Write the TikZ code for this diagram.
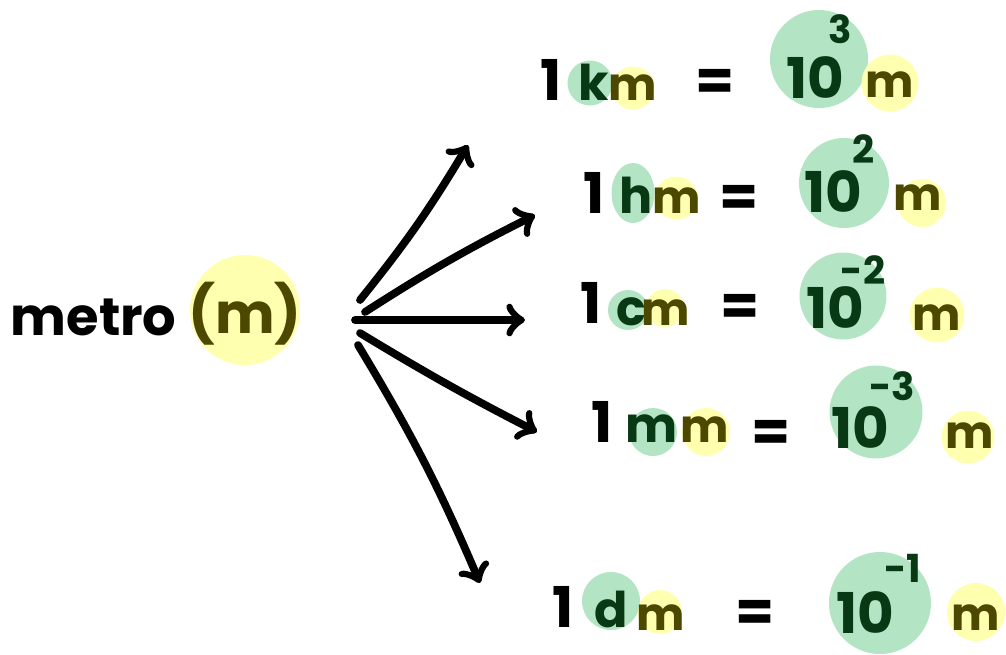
\documentclass[tikz,border=0pt]{standalone}
\usepackage{fontspec}
\setmainfont{Poppins}
\usepackage{tikz}
\usetikzlibrary{arrows,shapes.geometric}

\definecolor{grnfill}{RGB}{179,229,196}
\definecolor{ylwfill}{RGB}{255,255,176}
\definecolor{grntext}{RGB}{8,56,20}
\definecolor{ylwtext}{RGB}{76,72,0}

\tikzset{
  grn/.style={circle, fill=grnfill, inner sep=0pt},
  ylw/.style={circle, fill=ylwfill, inner sep=0pt},
  txt/.style={anchor=base, inner sep=0pt, font=\fontsize{16}{16}\selectfont\bfseries},
  sup/.style={anchor=base, inner sep=0pt, font=\fontsize{11}{11}\selectfont\bfseries, text=grntext},
  pre/.style={txt, text=grntext, font=\fontsize{14}{14}\selectfont\bfseries},
  ten/.style={txt, text=grntext},
  unit/.style={txt, text=ylwtext, font=\fontsize{13}{13}\selectfont\bfseries},
  eq/.style={txt, anchor=center}
}

\begin{document}
\begin{tikzpicture}
\useasboundingbox (0,0) rectangle (10.06,6.54);

% highlights
\node (ym0) at (2.45, 3.44) [ylw, minimum size=1.1cm] {};

\node (gk) at (5.90, 5.71) [grn, minimum size=0.45cm] {};
\node (yk) at (6.33, 5.66) [ylw, minimum size=0.43cm] {};
\node (gp1) at (8.19, 5.95) [grn, minimum size=0.98cm] {};
\node (yp1) at (8.90, 5.71) [ylw, minimum size=0.57cm] {};

\node (gh) at (6.33, 4.61) [ellipse, fill=grnfill, inner sep=0pt, minimum width=0.43cm, minimum height=0.6cm] {};
\node (yh) at (6.76, 4.56) [ylw, minimum size=0.43cm] {};
\node (gp2) at (8.44, 4.71) [grn, minimum size=0.9cm] {};
\node (yp2) at (9.22, 4.51) [ylw, minimum size=0.48cm] {};

\node (gc) at (6.28, 3.44) [grn, minimum size=0.4cm] {};
\node (yc) at (6.65, 3.46) [ylw, minimum size=0.38cm] {};
\node (gp3) at (8.43, 3.58) [grn, minimum size=0.87cm] {};
\node (yp3) at (9.37, 3.39) [ylw, minimum size=0.55cm] {};

\node (gmm) at (6.53, 2.22) [grn, minimum size=0.48cm] {};
\node (ymm) at (7.06, 2.22) [ylw, minimum size=0.48cm] {};
\node (gp4) at (8.76, 2.42) [grn, minimum size=0.93cm] {};
\node (yp4) at (9.68, 2.17) [ylw, minimum size=0.53cm] {};

\node (gd) at (6.11, 0.53) [grn, minimum size=0.58cm] {};
\node (yd) at (6.60, 0.42) [ylw, minimum size=0.44cm] {};
\node (gp5) at (8.80, 0.51) [grn, minimum size=1.02cm] {};
\node (yp5) at (9.76, 0.42) [ylw, minimum size=0.58cm] {};

% metro
\node (metro) at (0.10, 3.19) [txt, anchor=base west, font=\fontsize{15}{15}\selectfont\bfseries] {metro};
\node (m0) at (2.45, 3.21) [unit, font=\fontsize{16}{16}\selectfont\bfseries] {(m)};

% km
\node (one1) at (5.51, 5.54) [txt] {1};
\node (k) at (5.94, 5.54) [pre] {k};
\node (m1) at (6.33, 5.54) [unit] {m};
\node (eq1) at (7.15, 5.69) [eq] {=};
\node (ten1) at (8.15, 5.56) [ten] {10};
\node (ex1) at (8.40, 6.11) [sup] {3};
\node (u1) at (8.90, 5.57) [unit] {m};

% hm
\node (one2) at (5.94, 4.41) [txt] {1};
\node (h) at (6.36, 4.41) [pre] {h};
\node (m2) at (6.77, 4.41) [unit] {m};
\node (eq2) at (7.39, 4.53) [eq] {=};
\node (ten2) at (8.33, 4.42) [ten] {10};
\node (ex2) at (8.64, 4.91) [sup] {2};
\node (u2) at (9.18, 4.44) [unit] {m};

% cm
\node (one3) at (5.91, 3.31) [txt] {1};
\node (c) at (6.31, 3.29) [pre] {c};
\node (m3) at (6.66, 3.29) [unit] {m};
\node (eq3) at (7.40, 3.44) [eq] {=};
\node (ten3) at (8.35, 3.26) [ten] {10};
\node (ex3) at (8.63, 3.70) [sup] {-2};
\node (u3) at (9.37, 3.24) [unit] {m};

% mm
\node (one4) at (6.02, 2.12) [txt] {1};
\node (mp) at (6.52, 2.12) [pre] {m};
\node (m4) at (7.05, 2.12) [unit] {m};
\node (eq4) at (7.71, 2.18) [eq] {=};
\node (ten4) at (8.60, 2.06) [ten] {10};
\node (ex4) at (8.92, 2.54) [sup] {-3};
\node (u4) at (9.70, 2.06) [unit] {m};

% dm
\node (one5) at (5.63, 0.27) [txt] {1};
\node (d) at (6.11, 0.27) [pre] {d};
\node (m5) at (6.61, 0.24) [unit] {m};
\node (eq5) at (7.55, 0.38) [eq] {=};
\node (ten5) at (8.65, 0.21) [ten] {10};
\node (ex5) at (9.03, 0.72) [sup] {-1};
\node (u5) at (9.76, 0.24) [unit] {m};

% arrows
\coordinate (s1) at (3.60, 3.54);
\coordinate (s2) at (3.65, 3.42);
\coordinate (s3) at (3.55, 3.34);
\coordinate (s4) at (3.60, 3.21);
\coordinate (s5) at (3.58, 3.09);
\coordinate (e1) at (4.68, 5.09);
\coordinate (e2) at (5.35, 4.39);
\coordinate (e3) at (5.25, 3.34);
\coordinate (e4) at (5.37, 2.22);
\coordinate (e5) at (4.80, 0.71);

\draw[->, line width=2.2pt, line cap=round] (s1) to [bend right=4] (e1);
\draw[->, line width=2.2pt, line cap=round] (s2) to [bend left=3] (e2);
\draw[->, line width=2.2pt, line cap=round] (s3) -- (e3);
\draw[->, line width=2.2pt, line cap=round] (s4) to [bend right=2] (e4);
\draw[->, line width=2.2pt, line cap=round] (s5) to [bend left=4] (e5);
\end{tikzpicture}
\end{document}
